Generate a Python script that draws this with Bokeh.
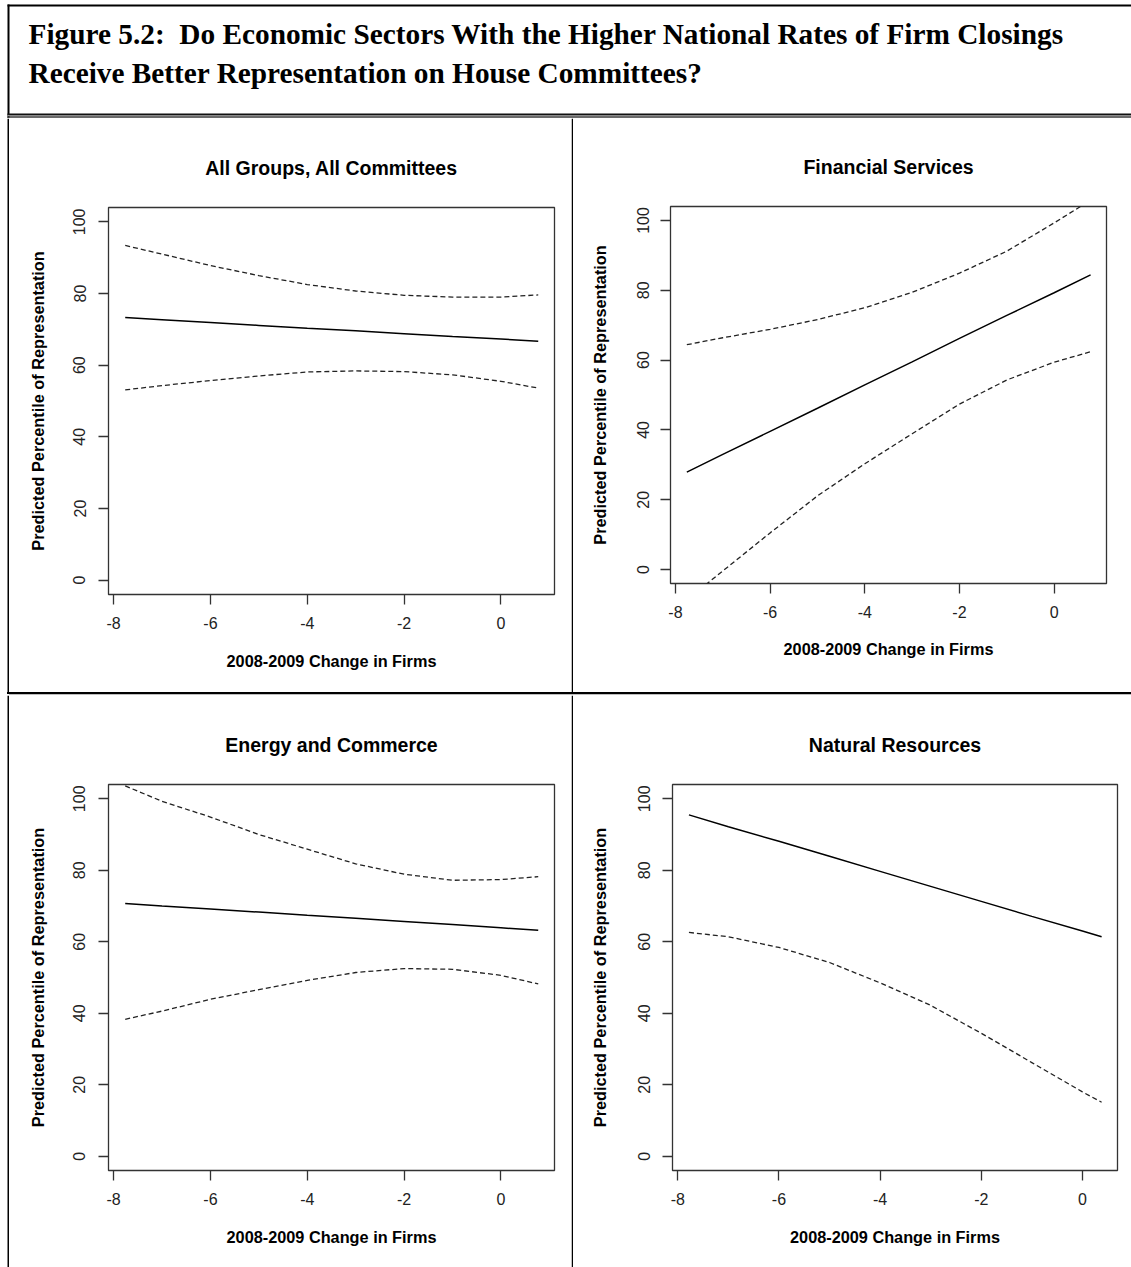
from bokeh.plotting import figure
from bokeh.layouts import column, row
from bokeh.models import Range1d, FixedTicker, Div
from bokeh.core.properties import value
from bokeh.embed import file_html
from bokeh.resources import INLINE

SANS = "Liberation Sans"
SERIF = "Liberation Serif"

# ---- figure heading ----
heading_lines = [
    "Figure 5.2:\u00a0 Do Economic Sectors With the Higher National Rates of Firm Closings",
    "Receive Better Representation on House Committees?",
]

# ---- panel titles and axis text ----
panel_titles = ["All Groups, All Committees", "Financial Services",
                "Energy and Commerce", "Natural Resources"]
x_label = "2008-2009 Change in Firms"
y_label = "Predicted Percentile of Representation"
x_ticks = [-8, -6, -4, -2, 0]
y_ticks = [0, 20, 40, 60, 80, 100]

# ---- predicted percentile (solid) with lower / upper bounds (dashed) ----
x_all = [-7.76, -7, -6, -5, -4, -3, -2, -1, 0, 0.77]
est_all = [73.3, 72.7, 71.9, 71.1, 70.3, 69.6, 68.8, 68.0, 67.3, 66.7]
lo_all = [53.1, 54.3, 55.7, 57.0, 58.1, 58.4, 58.2, 57.3, 55.5, 53.6]
hi_all = [93.4, 91.0, 87.8, 85.0, 82.5, 80.7, 79.5, 79.0, 79.0, 79.6]

x_fin = [-7.76, -7, -6, -5, -4, -3, -2, -1, 0, 0.77]
est_fin = [27.9, 33.0, 39.6, 46.2, 52.9, 59.5, 66.2, 72.8, 79.3, 84.4]
lo_fin = [-8.7, -0.4, 10.5, 21.1, 30.3, 38.9, 47.4, 54.3, 59.4, 62.4]
hi_fin = [64.4, 66.4, 68.8, 71.6, 75.0, 79.4, 84.9, 91.2, 99.3, 105.8]

x_enc = [-7.76, -7, -6, -5, -4, -3, -2, -1, 0, 0.77]
est_enc = [70.7, 70.0, 69.2, 68.3, 67.4, 66.6, 65.7, 64.8, 63.9, 63.2]
lo_enc = [38.3, 40.6, 43.9, 46.6, 49.2, 51.4, 52.5, 52.3, 50.6, 48.2]
hi_enc = [103.6, 99.3, 94.9, 90.0, 85.9, 81.8, 78.9, 77.2, 77.4, 78.2]

x_nat = [-7.78, -7, -6, -5, -4, -3, -2, -1, 0, 0.38]
est_nat = [95.5, 92.2, 88.1, 83.9, 79.7, 75.5, 71.3, 67.1, 63.0, 61.4]
lo_nat = [62.6, 61.4, 58.4, 54.2, 48.5, 42.2, 34.4, 26.2, 18.0, 15.1]
hi_nat = None  # lies entirely above the plotted range


def blank(width, height):
    """A bare drawing surface measured in pixels (y grows downward)."""
    p = figure(width=width, height=height, x_range=Range1d(0, width),
               y_range=Range1d(height, 0), x_axis_type=None, y_axis_type=None,
               title=None, min_border=0, output_backend="svg", toolbar_location=None)
    p.outline_line_color = None
    p.background_fill_color = "white"
    p.border_fill_color = "white"
    p.xgrid.visible = False
    p.ygrid.visible = False
    return p


# heading box
head = blank(1131, 118)
head.quad(left=[7, 7], right=[1131, 9], top=[4, 4], bottom=[6, 118],
          fill_color="black", line_color=None)
head.quad(left=[7, 7, 7, 7], right=[1131] * 4,
          top=[113, 114.4, 116, 117.3], bottom=[114.4, 116, 117.3, 118],
          fill_color=["#111111", "#8a8a8a", "#111111", "#c8c8c8"], line_color=None)
head.text(x=[28, 28], y=[33, 72], text=heading_lines,
          text_font=value(SERIF), text_font_style="bold", text_font_size="29.3px",
          text_color="black", text_baseline="middle", text_align="left")


def left_strip(height):
    s = blank(9, height)
    s.quad(left=[7], right=[9], top=[0], bottom=[height], fill_color="black", line_color=None)
    return column(s)


def v_rule(height):
    s = blank(2, height)
    s.quad(left=[0], right=[2], top=[0], bottom=[height], fill_color="black", line_color=None)
    return column(s)


def h_rule():
    # thin rule between the two rows of panels
    html = ('<div style="position:relative;width:1131px;height:3px;overflow:hidden;">'
            '<div style="position:absolute;left:7px;top:0;width:1124px;height:2px;background:#000;"></div>'
            '<div style="position:absolute;left:9px;top:2px;width:1122px;height:1px;background:#bdbdbd;"></div>'
            '</div>')
    return Div(text=html, width=1131, height=3, margin=0,
               styles={"overflow": "hidden", "line-height": "0", "font-size": "0"})


def panel(title, xs, est, lo, hi, width, height, borders, x_end, gaps):
    bl, br, bt, bb = borders
    p = figure(width=width, height=height,
               x_range=Range1d(-8.105, x_end), y_range=Range1d(-4, 104),
               min_border_left=bl, min_border_right=br,
               min_border_top=bt, min_border_bottom=bb,
               output_backend="svg", toolbar_location=None)
    p.background_fill_color = "white"
    p.border_fill_color = "white"
    p.outline_line_color = "#333333"
    p.outline_line_width = 1.3
    p.xgrid.visible = False
    p.ygrid.visible = False

    p.title.text = title
    p.title.align = "center"
    p.title.text_font = SANS
    p.title.text_font_style = "bold"
    p.title.text_font_size = "19.5px"
    p.title.text_color = "black"
    p.title.standoff = 57

    p.xaxis.ticker = FixedTicker(ticks=x_ticks)
    p.yaxis.ticker = FixedTicker(ticks=y_ticks)
    p.xaxis.major_label_overrides = {t: str(t) for t in x_ticks}
    p.yaxis.major_label_overrides = {t: str(t) for t in y_ticks}
    p.yaxis.major_label_orientation = "vertical"
    p.xaxis.axis_label = x_label
    p.yaxis.axis_label = y_label
    for ax in (p.xaxis, p.yaxis):
        ax.axis_line_color = None
        ax.major_tick_line_color = "#333333"
        ax.major_tick_line_width = 1.3
        ax.major_tick_out = 10
        ax.major_tick_in = 0
        ax.minor_tick_line_color = None
        ax.major_label_text_font = SANS
        ax.major_label_text_font_size = "16px"
        ax.major_label_text_color = "#222222"
        ax.axis_label_text_font = SANS
        ax.axis_label_text_font_style = "bold"
        ax.axis_label_text_font_size = "16.3px"
        ax.axis_label_text_color = "black"
    p.xaxis.major_label_standoff = gaps[0]
    p.xaxis.axis_label_standoff = gaps[1]
    p.yaxis.major_label_standoff = gaps[2]
    p.yaxis.axis_label_standoff = gaps[3]

    p.line(xs, est, line_color="black", line_width=1.5)
    for bound in (lo, hi):
        if bound is not None:
            p.line(xs, bound, line_color="#222222", line_width=1.3, line_dash="5 3")
    return column(p)


p1 = panel(panel_titles[0], x_all, est_all, lo_all, hi_all, 562, 574,
           (99, 17, 89, 98), 1.106, (12, 20, 13, 24))
p2 = panel(panel_titles[1], x_fin, est_fin, lo_fin, hi_fin, 558, 574,
           (97, 25, 88, 109), 1.106, (12, 19, 11, 26))
p3 = panel(panel_titles[2], x_enc, est_enc, lo_enc, hi_enc, 562, 572,
           (99, 17, 89, 97), 1.106, (12, 20, 13, 24))
p4 = panel(panel_titles[3], x_nat, est_nat, lo_nat, hi_nat, 558, 572,
           (99, 14, 89, 97), 0.694, (12, 20, 12, 27))

layout = column(
    head,
    row(left_strip(574), p1, v_rule(574), p2),
    h_rule(),
    row(left_strip(572), p3, v_rule(572), p4),
)

open("out.html", "w").write(file_html(layout, INLINE))
